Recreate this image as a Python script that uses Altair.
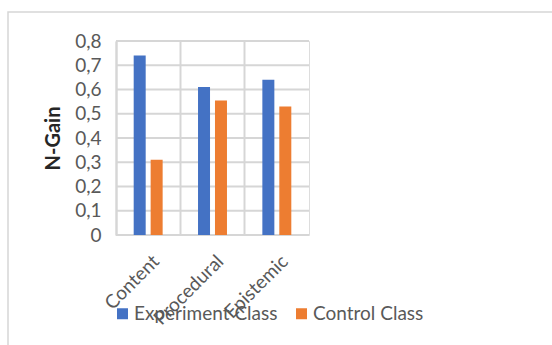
import altair as alt
import pandas as pd

categories = ["Content", "Procedural", "Epistemic"]
series = ["Experiment Class", "Control Class"]
experiment = [0.74, 0.61, 0.64]
control = [0.31, 0.555, 0.53]
y_ticks = [0, 0.1, 0.2, 0.3, 0.4, 0.5, 0.6, 0.7, 0.8]

rows = []
for c, e, k in zip(categories, experiment, control):
    rows.append({"category": c, "series": series[0], "value": e})
    rows.append({"category": c, "series": series[1], "value": k})
df = pd.DataFrame(rows)
grid_df = pd.DataFrame({"value": y_ticks})

FONT = "Lato"
GREY = "#595959"
GRID = "#d6d6d6"

yscale = alt.Scale(domain=[0, 0.8], nice=False)
yaxis = alt.Axis(title="N-Gain", values=y_ticks, grid=False,
                 labelOverlap=False,
                 labelExpr="datum.value == 0 ? '0' : replace(format(datum.value, '.1f'), '.', ',')",
                 labelFontSize=19, labelColor=GREY, labelFont=FONT,
                 labelPadding=15, ticks=False, domain=True,
                 domainColor=GRID, domainWidth=2,
                 titleFont=FONT, titleFontSize=20, titleFontWeight="bold",
                 titleColor="#262626", titlePadding=11)

hgrid = alt.Chart(grid_df).mark_rule(color=GRID, strokeWidth=2).encode(
    y=alt.Y("value:Q", scale=yscale, axis=yaxis, title="N-Gain")
)

bars = alt.Chart(df).mark_bar(width=12).encode(
    x=alt.X("category:N", sort=categories,
            scale=alt.Scale(paddingInner=0, paddingOuter=0),
            axis=alt.Axis(title=None, labelAngle=-45, labelAlign="right",
                          labelBaseline="middle", labelPadding=23,
                          labelFontSize=19, labelColor=GREY, labelFont=FONT,
                          ticks=False, domain=False, grid=True, bandPosition=0,
                          gridColor=GRID, gridWidth=2, labelOffset=8)),
    xOffset=alt.XOffset("series:N", sort=series,
                        scale=alt.Scale(paddingInner=0, paddingOuter=0.897)),
    y=alt.Y("value:Q", scale=yscale, axis=yaxis, title="N-Gain"),
    color=alt.Color("series:N", sort=series,
                    scale=alt.Scale(domain=series, range=["#4472c4", "#ed7d31"]),
                    legend=alt.Legend(title=None, orient="none", legendX=-3, legendY=263,
                                      direction="horizontal", symbolType="square",
                                      symbolSize=121, symbolStrokeWidth=0,
                                      labelFontSize=19, labelColor=GREY, labelFont=FONT,
                                      labelOffset=2, columnPadding=14)),
)

border = alt.Chart(pd.DataFrame({"a": [0]})).mark_rect(
    fill=None, stroke=GRID, strokeWidth=1.5
).encode(
    x=alt.value(-108), x2=alt.value(460),
    y=alt.value(-29), y2=alt.value(330),
)

chart = alt.layer(border, hgrid, bars).properties(
    width=193, height=194,
    padding={"left": 116, "top": 41, "right": 243, "bottom": 110},
    autosize=alt.AutoSizeParams(type="none"),
).configure_view(
    fill="#f1f1f1", stroke=GRID, strokeWidth=2
).configure(background="white")

chart.save("out.html", embed_options={"renderer": "svg", "actions": False})
